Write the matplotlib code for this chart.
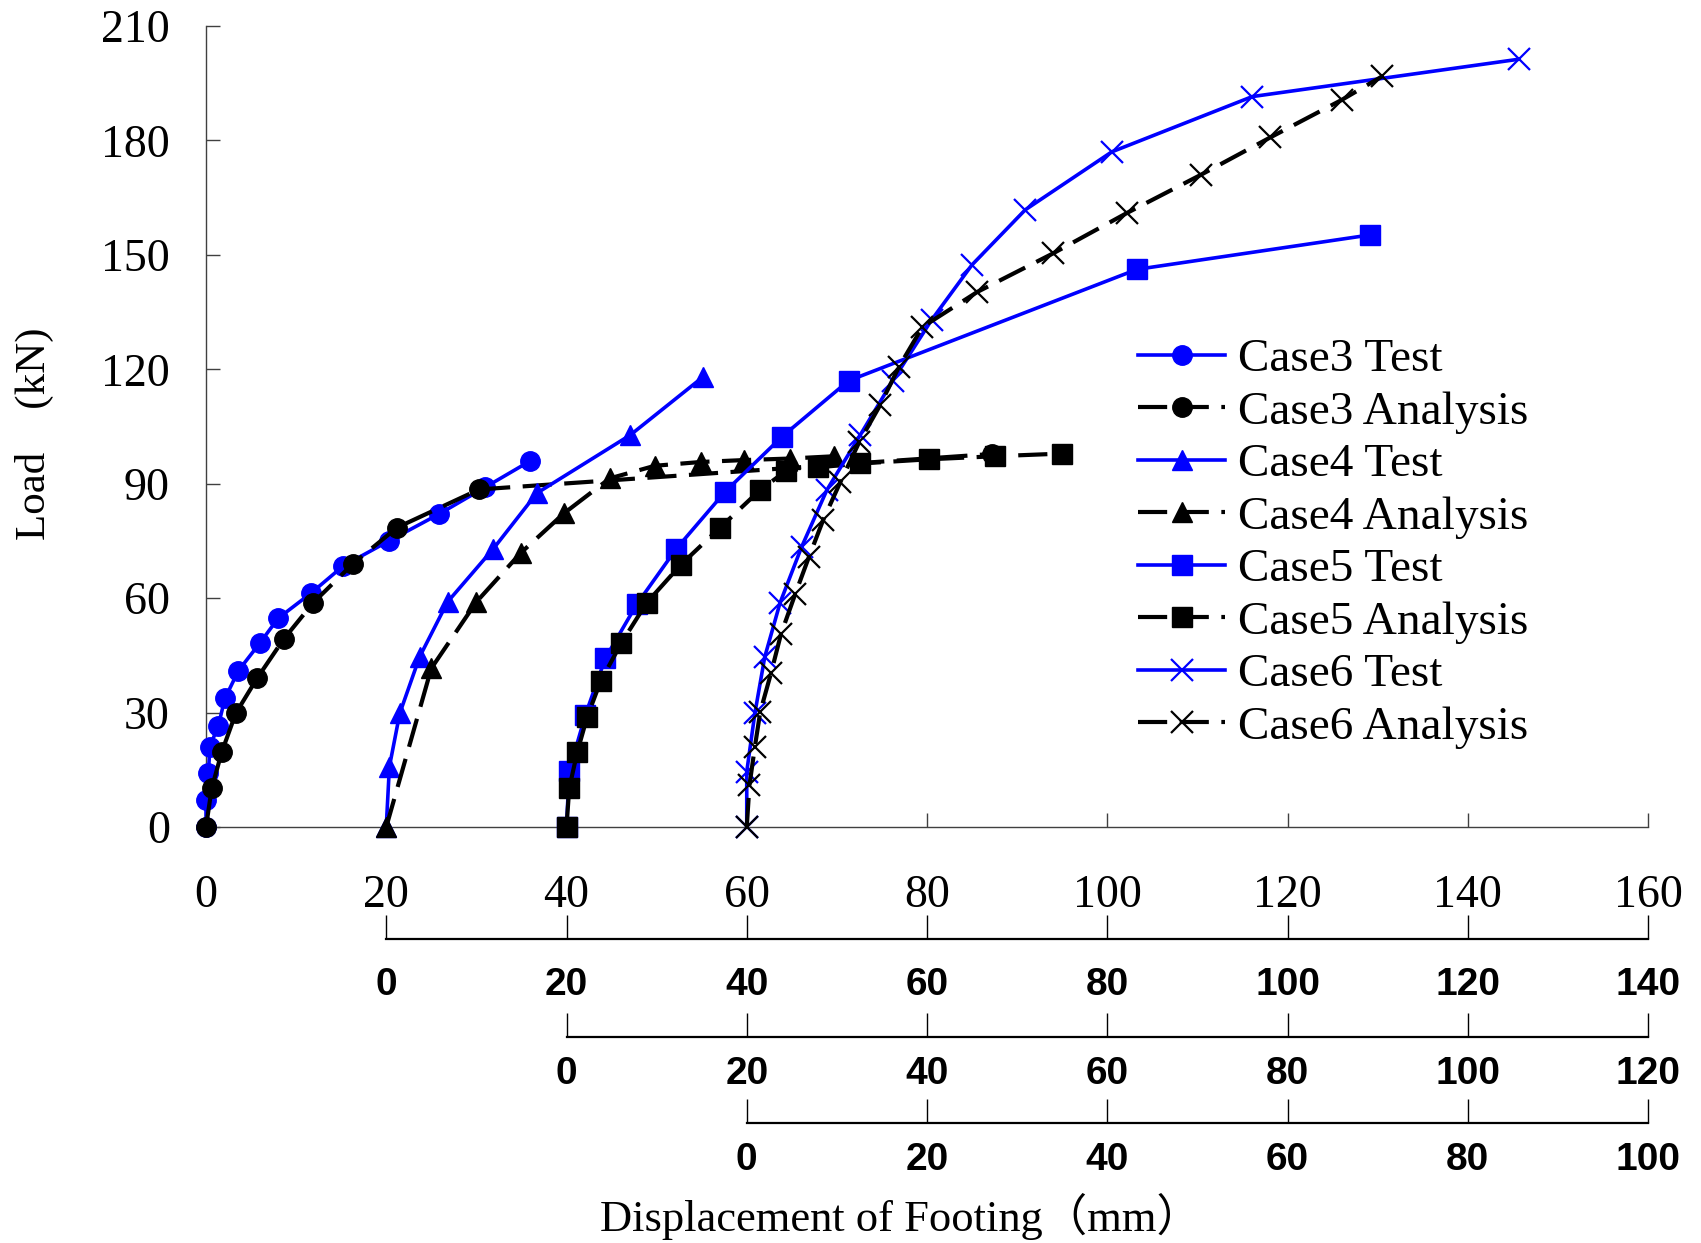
import matplotlib
matplotlib.use("Agg")
import matplotlib.pyplot as plt

# ---- data (displacement read on each case's own axis, load in kN) ----
case3_test_x = [0.0, 0.0, 0.26, 0.44, 1.37, 2.1, 3.6, 6.0, 8.0, 11.7, 15.2, 20.3, 25.9, 31.0, 36.0]
case3_test_y = [0.0, 7.1, 14.1, 21.1, 26.6, 33.7, 41.0, 48.3, 54.7, 61.4, 68.4, 75.0, 82.1, 89.1, 96.0]
case3_ana_x = [0.0, 0.63, 1.74, 3.3, 5.7, 8.6, 11.9, 16.3, 21.2, 30.3, 87.2]
case3_ana_y = [0.0, 10.1, 19.6, 29.8, 39.1, 49.2, 58.8, 69.0, 78.5, 88.5, 97.8]

case4_test_x = [0.0, 0.35, 1.5, 3.7, 6.8, 11.9, 16.7, 27.1, 35.2]
case4_test_y = [0.0, 15.8, 29.8, 44.6, 59.0, 73.0, 87.5, 102.8, 118.1]
case4_ana_x = [0.0, 5.0, 10.0, 14.9, 19.7, 24.8, 29.8, 34.9, 39.7, 44.8, 49.7]
case4_ana_y = [0.0, 41.6, 59.0, 71.8, 82.2, 91.4, 94.7, 95.7, 96.2, 96.6, 97.2]

case5_test_x = [0.0, 0.3, 2.1, 4.3, 7.8, 12.2, 17.6, 23.9, 31.3, 63.3, 89.1]
case5_test_y = [0.0, 14.7, 29.4, 44.2, 58.4, 73.0, 87.9, 102.3, 117.0, 146.2, 155.2]
case5_ana_x = [0.0, 0.3, 1.2, 2.3, 3.8, 6.1, 8.9, 12.7, 17.0, 21.5, 24.4, 27.9, 32.6, 40.2, 47.5, 55.0]
case5_ana_y = [0.0, 10.1, 19.7, 28.9, 38.3, 48.3, 58.8, 68.8, 78.4, 88.4, 93.4, 94.3, 95.3, 96.4, 97.2, 97.9]

case6_test_x = [0.0, 0.0, 0.9, 2.0, 3.7, 6.1, 8.9, 12.6, 16.2, 20.5, 25.0, 30.9, 40.5, 56.1, 85.7]
case6_test_y = [0.0, 14.5, 29.8, 44.6, 58.8, 73.5, 88.4, 102.8, 117.0, 132.9, 147.4, 161.8, 177.0, 191.5, 201.3]
case6_ana_x = [0.0, 0.3, 0.9, 1.5, 2.7, 3.8, 5.4, 6.9, 8.5, 10.4, 12.5, 14.8, 16.9, 19.5, 25.6, 34.0,
               42.2, 50.4, 58.1, 66.0, 70.5]
case6_ana_y = [0.0, 10.9, 21.0, 30.2, 40.4, 50.6, 61.2, 70.8, 80.6, 90.5, 101.0, 110.6, 120.7, 131.1,
               140.3, 150.4, 161.0, 171.0, 180.8, 190.6, 196.8]

# axis origins (position of each case's zero on the main axis) and ranges
case_offsets = [0, 20, 40, 60]
case_axis_max = [160, 140, 120, 100]
y_ticks = [0, 30, 60, 90, 120, 150, 180, 210]
labels = ["Case3 Test", "Case3 Analysis", "Case4 Test", "Case4 Analysis",
          "Case5 Test", "Case5 Analysis", "Case6 Test", "Case6 Analysis"]
markers = ["o", "^", "s", "x"]

SERIF = ["Liberation Serif", "DejaVu Serif"]
SANS = ["Liberation Sans", "DejaVu Sans"]

fig = plt.figure(figsize=(17.01, 12.43), dpi=100)
fig.patch.set_facecolor("white")
ax = fig.add_axes([206 / 1701, 416 / 1243, 1442 / 1701, 801 / 1243])

ax.set_xlim(0, 160)
ax.set_ylim(0, 210)
ax.set_xticks(range(0, 161, 20))
ax.set_yticks(y_ticks)
for s in ["top", "right"]:
    ax.spines[s].set_visible(False)
for s in ["left", "bottom"]:
    ax.spines[s].set_color("#404040")
    ax.spines[s].set_linewidth(1.0)
ax.tick_params(axis="both", direction="in", length=10, width=1.0, color="#404040")
ax.tick_params(axis="x", pad=34)
ax.tick_params(axis="y", pad=26)
for t in ax.get_xticklabels() + ax.get_yticklabels():
    t.set_fontfamily(SERIF)
    t.set_fontsize(33)

# secondary axes for cases 4, 5, 6
spine_pos = [None, -0.140, -0.262, -0.3695]
label_pad = [None, 20, 14, 14]
axes_list = [ax]
for i in range(1, 4):
    a = ax.twiny()
    off = case_offsets[i]
    a.set_xlim(-off, 160 - off)
    a.xaxis.set_ticks_position("bottom")
    a.xaxis.set_label_position("bottom")
    for s in ["top", "left", "right"]:
        a.spines[s].set_visible(False)
    a.spines["bottom"].set_position(("axes", spine_pos[i]))
    a.spines["bottom"].set_bounds(0, case_axis_max[i])
    a.spines["bottom"].set_linewidth(1.6)
    a.spines["bottom"].set_color("black")
    a.set_xticks(range(0, case_axis_max[i] + 1, 20))
    a.tick_params(axis="x", direction="in", length=17, width=1.0, pad=label_pad[i])
    for t in a.get_xticklabels():
        t.set_fontfamily(SANS)
        t.set_fontsize(28)
        t.set_fontweight("bold")
    axes_list.append(a)

series = [
    (case3_test_x, case3_test_y, case3_ana_x, case3_ana_y),
    (case4_test_x, case4_test_y, case4_ana_x, case4_ana_y),
    (case5_test_x, case5_test_y, case5_ana_x, case5_ana_y),
    (case6_test_x, case6_test_y, case6_ana_x, case6_ana_y),
]
handles = []
for i, (tx, ty, axx, ayy) in enumerate(series):
    a = axes_list[i]
    m = markers[i]
    if m == "x":
        ms, mew = 16, 1.6
    else:
        ms, mew = 14, 1.0
    h1, = a.plot(tx, ty, color="#0000FF", lw=2.6, marker=m, ms=ms, mew=mew,
                 mfc="#0000FF", mec="#0000FF", clip_on=False, zorder=3)
    h2, = a.plot(axx, ayy, color="black", lw=3.0, ls=(0, (7, 3)), marker=m, ms=ms, mew=mew,
                 mfc="black", mec="black", clip_on=False, zorder=3)
    handles += [h1, h2]

leg = axes_list[-1].legend(handles, labels, loc="upper left",
                           bbox_to_anchor=(1138 / 1701, 1 - 338 / 1243),
                           bbox_transform=fig.transFigure, frameon=False, borderpad=0, borderaxespad=0,
                           handlelength=1.85, handletextpad=0.27, labelspacing=0.2,
                           prop={"family": SERIF, "size": 34})
leg.set_zorder(10)

fig.text(34 / 1701, 1 - 434 / 1243, "Load\u3000(kN)", rotation=90, ha="center", va="center",
         fontsize=31, family=SERIF + ["Noto Sans CJK SC"])
fig.text(901 / 1701, 1 - 1216 / 1243, "Displacement of Footing\uff08mm\uff09", ha="center", va="center",
         fontsize=32, family=SERIF + ["Noto Sans CJK SC"])

fig.savefig("out.png", dpi=100, facecolor="white")
